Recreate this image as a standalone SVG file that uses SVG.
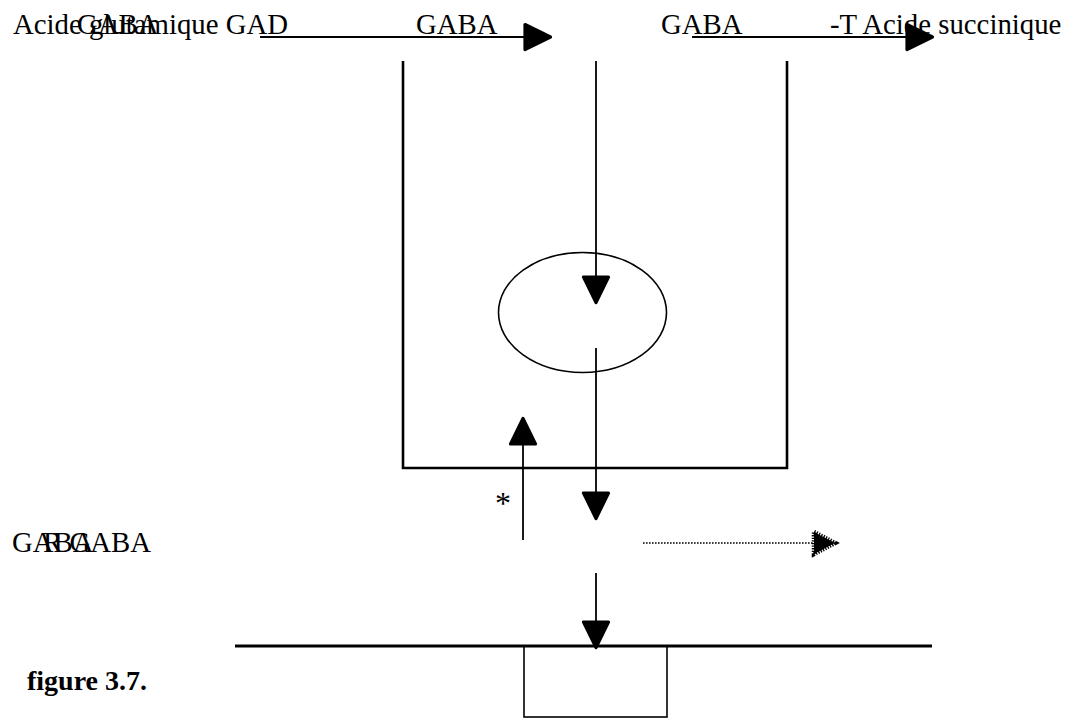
<svg xmlns="http://www.w3.org/2000/svg" width="1070" height="718" viewBox="0 0 1070 718">
  <style>
    .t { font-family: "Liberation Serif", "Times New Roman", serif; font-size: 28.8px; fill: #000; }
    .ast { font-family: "Liberation Serif", "Times New Roman", serif; font-size: 32px; fill: #000; }
    .cap { font-family: "Liberation Serif", "Times New Roman", serif; font-size: 28px; font-weight: bold; fill: #000; }
    .arr { stroke: #000; stroke-width: 1.8; fill: none; marker-end: url(#ah); }
    .wall { stroke: #000; stroke-width: 2.6; fill: none; }
    .dot { stroke: #000; stroke-width: 1.6; stroke-dasharray: 1.6 1.4; fill: none; marker-end: url(#ahd); }
  </style>
  <defs>
    <marker id="ah" markerUnits="userSpaceOnUse" orient="auto" viewBox="-3 -16 34 32" markerWidth="34" markerHeight="32" refX="0" refY="0">
      <path d="M0,-12.5 L25.5,0 L0,12.5 Z" fill="#000" stroke="#000" stroke-width="3.2" stroke-linejoin="round"/>
    </marker>
    <marker id="ahd" markerUnits="userSpaceOnUse" orient="auto" viewBox="-5 -19 36 38" markerWidth="36" markerHeight="38" refX="0" refY="0">
      <path d="M0,-11 L21,0 L0,11 Z" fill="#000" stroke="#000" stroke-width="4.5" stroke-dasharray="1.3 1.3"/>
    </marker>
  </defs>

  <g id="labels">
    <text class="t" x="13" y="34">Acide glutamique GAD</text>
    <text class="t" x="77" y="34">GABA</text>
    <text class="t" x="416" y="34">GABA</text>
    <text class="t" x="661" y="34">GABA</text>
    <text class="t" x="830" y="34">-T Acide succinique</text>
    <text class="t" x="12" y="552">GABA</text>
    <text class="t" x="43" y="552">R GABA</text>
    <text class="ast" x="495" y="514">*</text>
    <text class="cap" x="27" y="690">figure 3.7.</text>
  </g>

  <g id="presynaptic-terminal">
    <polyline class="wall" points="403,61 403,468 787,468 787,61"/>
  </g>

  <g id="vesicle">
    <ellipse cx="582.5" cy="312.5" rx="84" ry="60" fill="none" stroke="#000" stroke-width="1.6"/>
  </g>

  <g id="postsynaptic-membrane">
    <line x1="235" y1="646" x2="932" y2="646" stroke="#000" stroke-width="3"/>
    <rect x="524" y="646" width="143" height="71" fill="none" stroke="#000" stroke-width="1.6"/>
  </g>

  <g id="connectors">
    <line class="arr" x1="260" y1="37" x2="525" y2="37"/>
    <line class="arr" x1="692" y1="37" x2="907" y2="37"/>
    <line class="arr" x1="596" y1="61" x2="596" y2="277"/>
    <line class="arr" x1="596" y1="348" x2="596" y2="493"/>
    <line class="arr" x1="523" y1="540" x2="523" y2="444"/>
    <line class="arr" x1="596" y1="573" x2="596" y2="622"/>
    <line class="dot" x1="643" y1="543" x2="814" y2="543"/>
  </g>
</svg>
